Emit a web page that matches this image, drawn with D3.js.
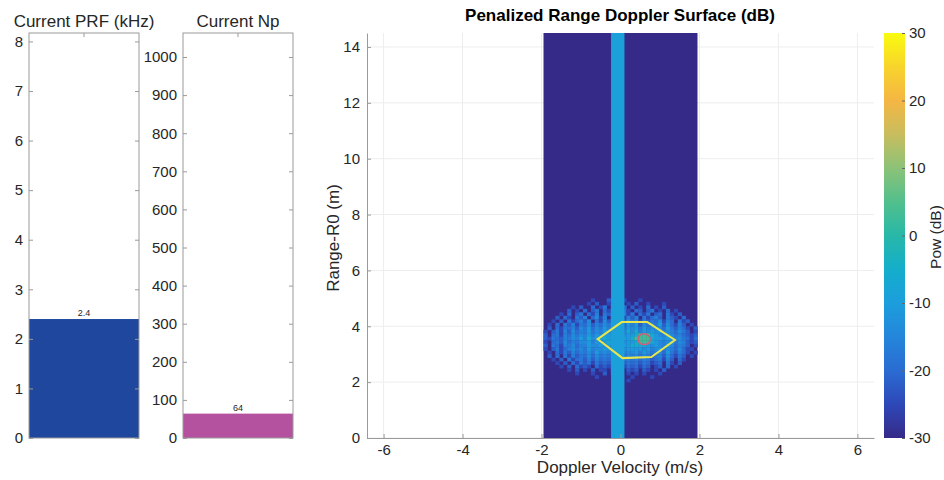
<!DOCTYPE html>
<html><head><meta charset="utf-8">
<script src="https://cdn.jsdelivr.net/npm/d3@7/dist/d3.min.js"></script>
<style>
body{margin:0;background:#fff}
svg text{font-family:"Liberation Sans",Arial,Helvetica,sans-serif;fill:#262626}
</style></head><body>
<svg id="c" width="944" height="480"></svg>
<script>
// ---------- data ----------
const prfTicks = [0,1,2,3,4,5,6,7,8];
const prfValue = [2.4];
const prfLabel = ["2.4"];
const npTicks = [0,100,200,300,400,500,600,700,800,900,1000];
const npValue = [64];
const npLabel = ["64"];
const velTicks = [-6,-4,-2,0,2,4,6];
const rangeTicks = [0,2,4,6,8,10,12,14];
const cbTicks = [-30,-20,-10,0,10,20,30];
const surfaceVel = [-1.95, 1.95];
const surfaceRange = [0, 14.5];
const backgroundDb = -30;
const stripeVel = [-0.24, 0.1];
const stripeDb = -9.5;
const blobVelStart = -1.95, blobVelStep = 0.1;
const blobRangeTop = 5.0, blobRangeStep = 0.125;
const levelDb = [-30,-25,-22,-20,-18,-16,-14,-11,-6,3];
const blobLevels = [
 "000000000000100020001000100000000000000",
 "000000000001020010300102001000100000000",
 "000000010200301402013020103010200000000",
 "000000201030240315024103202401030100000",
 "000010302403150426035140314023041020000",
 "000203104250361504361525041352042103000",
 "001020413526041625362746152436153041200",
 "010304251436253647463757264547263152010",
 "020314352647364757574767475656374253102",
 "102415263547465767675868576767465364201",
 "203415364657576778766778999876576453212",
 "214325465758677878777789999877676564313",
 "103426354667576787876778999876567465212",
 "204315463557667677767788887676576354201",
 "102413564647566767676777767567465363110",
 "010314253546475657565667576456374253101",
 "020304152436364546454656465345263142010",
 "001020413425253435343545354234152031000",
 "000102031424142324232434243123041020000",
 "000010203121031213121323132012030100000",
 "000000102010201102010212021010200000000",
 "000000001000100201000101010001000000000",
 "000000000000010000100010000100000000000",
 "000000000000000000000100000000000000000"
];
const hexContour = [[-0.58,3.54],[0.03,4.15],[0.68,4.15],[1.38,3.51],[0.78,2.90],[0.05,2.86]];
const peakContour = [[0.75,3.54],[0.71,3.67],[0.6,3.73],[0.49,3.68],[0.45,3.54],[0.49,3.40],[0.6,3.35],[0.71,3.40]];
const cmapDb = [-30,-25,-20,-15,-10,-5,0,5,10,15,20,25,30];
const cmapColors = ["#352a87","#2e48b8","#2a6cd2","#2486da","#1c9edc","#14aecb","#27b8a8","#52bf8c","#8cc277","#c8bd5e","#f4b643","#f8d42c","#f9fb0e"];

// ---------- helpers ----------
const svg = d3.select("#c");
const cScale = d3.scaleLinear().domain(cmapDb).range(cmapColors).interpolate(d3.interpolateRgb).clamp(true);
const axisGray = "#9a9a9a";
const fmt = d => String(d);
const tickFont = 15;

function styleAxis(g){
  g.selectAll("text").attr("font-size",tickFont).style("fill","#262626");
  g.selectAll(".tick line").attr("stroke",axisGray);
  g.select(".domain").attr("stroke",axisGray);
}

// ---------- bar panels ----------
function barPanel(x0,x1,yDomain,ticks,value,label,color,title){
  const y = d3.scaleLinear().domain(yDomain).range([438,33]);
  const xb = d3.scaleBand().domain(["v"]).range([x0,x1]).padding(0);
  const g = svg.append("g");
  g.selectAll("rect.bar").data(value).join("rect").attr("class","bar")
    .attr("x",xb("v")).attr("width",xb.bandwidth())
    .attr("y",d=>y(d)).attr("height",d=>y(0)-y(d)).attr("fill",color);
  g.selectAll("text.vl").data(value).join("text").attr("class","vl")
    .attr("x",xb("v")+xb.bandwidth()/2).attr("y",d=>y(d)-3)
    .attr("text-anchor","middle").attr("font-size",9).text((d,i)=>label[i]);
  const ax = g.append("g").attr("transform",`translate(${x0},0)`)
    .call(d3.axisLeft(y).tickValues(ticks).tickFormat(fmt).tickSize(-4).tickSizeOuter(0).tickPadding(6));
  ax.select(".domain").remove(); styleAxis(ax);
  const ax2 = g.append("g").attr("transform",`translate(${x1},0)`)
    .call(d3.axisRight(y).tickValues(ticks).tickSize(-4).tickFormat(""));
  ax2.select(".domain").remove(); styleAxis(ax2);
  g.append("line").attr("x1",(x0+x1)/2).attr("x2",(x0+x1)/2).attr("y1",33).attr("y2",37).attr("stroke",axisGray);
  g.append("rect").attr("x",x0).attr("y",33).attr("width",x1-x0).attr("height",405)
    .attr("fill","none").attr("stroke",axisGray);
  g.append("text").attr("x",(x0+x1)/2).attr("y",27).attr("text-anchor","middle").attr("font-size",17).text(title);
}
barPanel(29,139,[0,8.17],prfTicks,prfValue,prfLabel,"#1e479d","Current PRF (kHz)");
barPanel(183,293,[0,1063],npTicks,npValue,npLabel,"#b4529f","Current Np");

// ---------- main surface ----------
const x = d3.scaleLinear().domain([-6.42,6.42]).range([367,874]);
const y = d3.scaleLinear().domain([0,14.5]).range([438,33]);
const m = svg.append("g");
m.append("g").selectAll("line").data(velTicks).join("line")
  .attr("x1",d=>x(d)).attr("x2",d=>x(d)).attr("y1",33).attr("y2",438).attr("stroke","#ededed");
m.append("g").selectAll("line").data(rangeTicks).join("line")
  .attr("x1",367).attr("x2",874).attr("y1",d=>y(d)).attr("y2",d=>y(d)).attr("stroke","#ededed");
m.append("rect").attr("x",x(surfaceVel[0])).attr("width",x(surfaceVel[1])-x(surfaceVel[0]))
  .attr("y",y(surfaceRange[1])).attr("height",y(surfaceRange[0])-y(surfaceRange[1]))
  .attr("fill",cScale(backgroundDb));
const cells = [];
blobLevels.forEach((row,r)=>{
  for(let c=0;c<row.length;c++){
    const lv = +row[c];
    const v0 = blobVelStart+c*blobVelStep;
    if(lv===0 || v0+blobVelStep>surfaceVel[1]+1e-6) continue;
    cells.push({v0, r1:blobRangeTop-r*blobRangeStep, db:levelDb[lv]});
  }
});
const cw = x(blobVelStep)-x(0), ch = y(0)-y(blobRangeStep);
m.append("g").selectAll("rect").data(cells).join("rect")
  .attr("x",d=>x(d.v0)).attr("y",d=>y(d.r1)).attr("width",cw+0.3).attr("height",ch+0.3)
  .attr("fill",d=>cScale(d.db));
m.append("rect").attr("x",x(stripeVel[0])).attr("width",x(stripeVel[1])-x(stripeVel[0]))
  .attr("y",y(surfaceRange[1])).attr("height",y(surfaceRange[0])-y(surfaceRange[1]))
  .attr("fill",cScale(stripeDb));
m.append("path").attr("d",d3.line().x(d=>x(d[0])).y(d=>y(d[1])).curve(d3.curveLinearClosed)(hexContour))
  .attr("fill","none").attr("stroke","#e9e64c").attr("stroke-width",2);
m.append("path").attr("d",d3.line().x(d=>x(d[0])).y(d=>y(d[1])).curve(d3.curveCardinalClosed)(peakContour))
  .attr("fill","none").attr("stroke","#d65c7c").attr("stroke-width",1.6);
const ax = m.append("g").attr("transform","translate(0,438)")
  .call(d3.axisBottom(x).tickValues(velTicks).tickFormat(fmt).tickSize(-4).tickSizeOuter(0).tickPadding(6));
styleAxis(ax);
const ay = m.append("g").attr("transform","translate(367,0)")
  .call(d3.axisLeft(y).tickValues(rangeTicks).tickFormat(fmt).tickSize(-4).tickSizeOuter(0).tickPadding(7));
styleAxis(ay);
m.append("text").attr("x",620).attr("y",21).attr("text-anchor","middle").attr("font-size",17)
  .attr("font-weight","bold").style("fill","#000").text("Penalized Range Doppler Surface (dB)");
m.append("text").attr("x",620).attr("y",473).attr("text-anchor","middle").attr("font-size",17)
  .text("Doppler Velocity (m/s)");
m.append("text").attr("transform","translate(339,238) rotate(-90)").attr("text-anchor","middle")
  .attr("font-size",17).text("Range-R0 (m)");

// ---------- colorbar ----------
const cb = svg.append("g");
const cy = d3.scaleLinear().domain([-30,30]).range([438,33]);
const grad = svg.append("defs").append("linearGradient").attr("id","pg")
  .attr("x1",0).attr("y1",1).attr("x2",0).attr("y2",0);
d3.range(-30,30.001,2.5).forEach(v=>grad.append("stop").attr("offset",(v+30)/60).attr("stop-color",cScale(v)));
cb.append("rect").attr("x",884).attr("y",33).attr("width",21).attr("height",405).attr("fill","url(#pg)");
const cax = cb.append("g").attr("transform","translate(905,0)")
  .call(d3.axisRight(cy).tickValues(cbTicks).tickFormat(fmt).tickSize(-3).tickSizeOuter(0).tickPadding(4));
cax.select(".domain").remove(); styleAxis(cax);
cax.selectAll(".tick line").attr("stroke","#666");
cb.append("text").attr("transform","translate(941,237) rotate(-90)").attr("text-anchor","middle")
  .attr("font-size",15.5).text("Pow (dB)");
</script></body></html>
